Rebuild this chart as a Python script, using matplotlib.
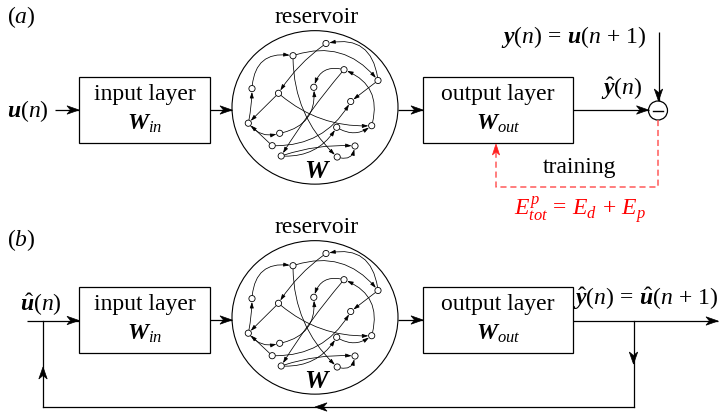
import numpy as np
import matplotlib
matplotlib.use("Agg")
import matplotlib.pyplot as plt
from matplotlib.patches import Rectangle, Ellipse, Circle, Polygon, FancyArrowPatch

# ---------------- diagram content ----------------
panel_labels = ["$(a)$", "$(b)$"]
box_titles = ["input layer", "output layer"]
box_weights = [r"$\mathbf{W}_{in}$", r"$\mathbf{W}_{out}$"]
reservoir_title = "reservoir"
reservoir_weight = r"$\mathbf{W}$"
input_label_a = r"$\mathbf{u}(n)$"
input_label_b = r"$\hat{\mathbf{u}}(n)$"
target_label = r"$\mathbf{y}(n)\,=\,\mathbf{u}(n\,+\,1)$"
pred_label_a = r"$\hat{\mathbf{y}}(n)$"
pred_label_b = r"$\hat{\mathbf{y}}(n)\,=\,\hat{\mathbf{u}}(n\,+\,1)$"
training_label = "training"
loss_label = r"$E^{p}_{tot}\,=\,E_{d}\,+\,E_{p}$"

# reservoir nodes (panel a pixel positions; panel b shifted down)
node_x = [326, 293, 344, 378, 252, 278.5, 313.8, 350.7, 248.3, 279.7, 336.7, 371.7, 272.2, 355, 281.2, 337.2]
node_y = [44.5, 56.7, 70.7, 81.5, 89.6, 94.3, 88.3, 102.5, 124.2, 134.3, 128.3, 126.7, 146.7, 147, 157, 158]
# directed edges: source, target, curvature
edge_src = [3, 0, 4, 1, 1, 11, 2, 2, 3, 8, 5, 8, 9, 12, 12, 10, 14, 14, 15, 5]
edge_dst = [0, 5, 1, 3, 15, 2, 6, 14, 7, 4, 8, 9, 6, 8, 7, 11, 10, 13, 13, 11]
edge_rad = [0.55, 0.1, -0.55, -0.35, 0.22, 0.45, 0.5, 0.04, 0.0, 0.05, 0.0, 0.35, 0.45, 0.0, 0.3, 0.35, 0.3, -0.1, 0.6, 0.2]

PANEL_DY = 210

plt.rcParams['font.family'] = ['Liberation Serif', 'DejaVu Serif']
plt.rcParams['mathtext.fontset'] = 'custom'
plt.rcParams['mathtext.rm'] = 'Liberation Serif'
plt.rcParams['mathtext.it'] = 'Liberation Serif:italic'
plt.rcParams['mathtext.bf'] = 'Liberation Serif:italic:bold'
try:
    plt.rcParams['mathtext.bfit'] = 'Liberation Serif:italic:bold'
except KeyError:
    pass

FS = 17
LW = 0.9

fig = plt.figure(figsize=(7.23, 4.14), dpi=100)
ax = fig.add_axes([0, 0, 1, 1])
ax.set_xlim(0, 723)
ax.set_ylim(414, 0)
ax.axis('off')


def stealth(tip, d, L=12, W=4.2, notch=3.5, color='k'):
    d = np.asarray(d, float)
    d = d / np.hypot(*d)
    p = np.array([-d[1], d[0]])
    t = np.asarray(tip, float)
    pts = [t, t - L * d + W * p, t - (L - notch) * d, t - L * d - W * p]
    ax.add_patch(Polygon(pts, closed=True, facecolor=color, edgecolor=color, lw=0.5, zorder=5))


def arrow(x0, y0, x1, y1, color='k', lw=LW, ls='-', head=True):
    ax.plot([x0, x1], [y0, y1], color=color, lw=lw, ls=ls, solid_capstyle='butt')
    if head:
        stealth((x1, y1), (x1 - x0, y1 - y0), color=color)


def reservoir(dy):
    cx, cy = 315, 108.4 + dy
    ax.add_patch(Ellipse((cx, cy), 166, 153.5, fill=False, edgecolor='k', lw=0.8))
    ax.text(317, 23 + dy, reservoir_title, fontsize=FS, ha='center', va='baseline')
    ax.text(317, 178 + dy, reservoir_weight, fontsize=FS + 2, ha='center', va='baseline')
    for s, t, r in zip(edge_src, edge_dst, edge_rad):
        a = FancyArrowPatch((node_x[s], node_y[s] + dy), (node_x[t], node_y[t] + dy),
                            connectionstyle=f"arc3,rad={r}",
                            arrowstyle="-|>,head_length=0.5,head_width=0.16",
                            mutation_scale=7, lw=0.55, color='k',
                            shrinkA=2.4, shrinkB=2.4, zorder=3)
        ax.add_patch(a)
    for x, y in zip(node_x, node_y):
        ax.add_patch(Circle((x, y + dy), 3.1, facecolor='white', edgecolor='k', lw=0.6, zorder=4))


def boxes(dy):
    ax.add_patch(Rectangle((79, 78 + dy), 131, 66, fill=False, edgecolor='k', lw=LW))
    ax.add_patch(Rectangle((423, 78 + dy), 150, 66, fill=False, edgecolor='k', lw=LW))
    ax.text(144.5, 100.5 + dy, box_titles[0], fontsize=FS, ha='center', va='baseline')
    ax.text(144.5, 129.5 + dy, box_weights[0], fontsize=FS, ha='center', va='baseline')
    ax.text(498, 100 + dy, box_titles[1], fontsize=FS, ha='center', va='baseline')
    ax.text(498, 129.5 + dy, box_weights[1], fontsize=FS, ha='center', va='baseline')
    arrow(210, 111 + dy, 232, 111 + dy)
    arrow(398, 111 + dy, 423, 111 + dy)
    reservoir(dy)


# ---------------- panel (a) ----------------
ax.text(7, 23, panel_labels[0], fontsize=FS, ha='left', va='baseline')
boxes(0)
ax.text(7, 117, input_label_a, fontsize=FS, ha='left', va='baseline')
arrow(55, 111, 79, 111)
arrow(573, 111, 648.5, 111)
ax.add_patch(Circle((658, 111.5), 9.5, fill=False, edgecolor='k', lw=LW))
ax.plot([653, 663], [111.5, 111.5], color='k', lw=1.0)
ax.text(622, 95, pred_label_a, fontsize=FS, ha='center', va='baseline')
ax.text(573.5, 43.5, target_label, fontsize=FS, ha='center', va='baseline')
arrow(658.5, 33, 658.5, 102)
red_line = '#ff5a5a'
ax.plot([658, 658, 496, 496], [121, 188, 188, 150], color=red_line, lw=1.1, ls=(0, (4, 2.5)))
stealth((496, 145), (0, -1), L=11, W=3.6, notch=3.2, color='#ff2020')
ax.text(580, 173, training_label, fontsize=FS, ha='center', va='baseline')
ax.text(580, 215, loss_label, fontsize=FS, ha='center', va='baseline', color='#ff0000')

# ---------------- panel (b) ----------------
ax.text(7, 246, panel_labels[1], fontsize=FS, ha='left', va='baseline')
boxes(PANEL_DY)
ax.text(20, 311.5, input_label_b, fontsize=FS, ha='left', va='baseline')
arrow(27, 321.5, 79, 321.5)
arrow(573, 322, 718, 322)
ax.text(646, 305, pred_label_b, fontsize=FS, ha='center', va='baseline')
# feedback loop
ax.plot([633.5, 633.5], [322, 408], color='k', lw=LW)
stealth((633.5, 365), (0, 1))
ax.plot([633.5, 43], [408, 408], color='k', lw=LW)
stealth((315, 408), (-1, 0))
ax.plot([43, 43], [408, 321.5], color='k', lw=LW)
stealth((43, 368), (0, -1))

fig.savefig("out.png", dpi=100)
